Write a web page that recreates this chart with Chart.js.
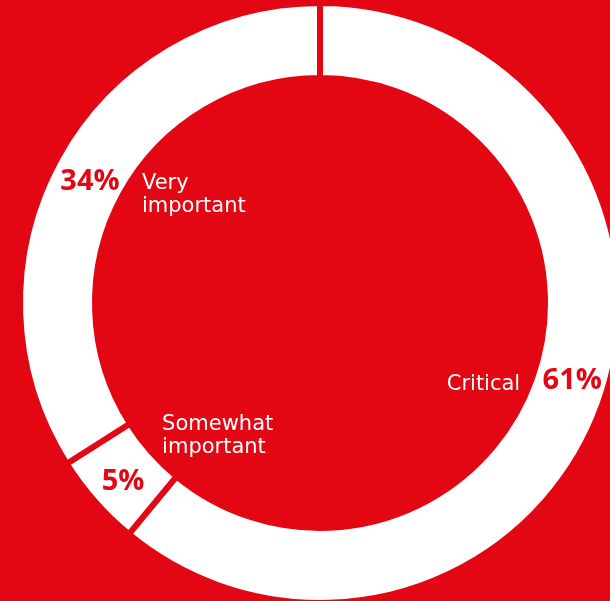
<!DOCTYPE html>
<html>
<head>
<meta charset="utf-8">
<script src="https://cdn.jsdelivr.net/npm/chart.js@4"></script>
<style>
  html, body {
    margin: 0;
    padding: 0;
    width: 610px;
    height: 601px;
    overflow: hidden;
    background: #e30613;
  }
  #ring {
    position: absolute;
    left: 0;
    top: 0;
  }
</style>
</head>
<body>
<canvas id="ring" width="640" height="606"></canvas>
<script>
const categories = [["Critical"], ["Somewhat", "important"], ["Very", "important"]];
const shares = [61, 5, 34];

const RED = "#e30613";

// where each category name sits, relative to its percentage
const labelPlacement = [
  { nudge: -3.7, dx: -52, dy: 3, align: "right" },
  { nudge: 0, dx: 39, dy: -58, align: "left" },
  { nudge: 0, dx: 52, dy: 1, align: "left" },
];

const ringLabels = {
  id: "ringLabels",
  afterDatasetsDraw(chart) {
    const ctx = chart.ctx;
    const arcs = chart.getDatasetMeta(0).data;
    ctx.save();
    ctx.textBaseline = "alphabetic";
    arcs.forEach((arc, i) => {
      const p = labelPlacement[i];
      const mid = (arc.startAngle + arc.endAngle) / 2 + (p.nudge * Math.PI) / 180;
      const r = (arc.innerRadius + arc.outerRadius) / 2;
      const px = arc.x + Math.cos(mid) * r;
      const py = arc.y + Math.sin(mid) * r + 3;

      ctx.fillStyle = RED;
      ctx.textAlign = "center";
      ctx.font = "bold 29px 'Open Sans'";
      ctx.fillText(shares[i] + "%", px, py + 10);

      ctx.fillStyle = "#ffffff";
      ctx.textAlign = p.align;
      ctx.font = "21px 'DejaVu Sans'";
      categories[i].forEach((line, j) => {
        ctx.fillText(line, px + p.dx, py + p.dy + 8 + j * 23.5);
      });
    });
    ctx.restore();
  },
};

new Chart(document.getElementById("ring"), {
  type: "doughnut",
  data: {
    labels: categories.map((c) => c.join(" ")),
    datasets: [
      {
        data: shares,
        backgroundColor: "#ffffff",
        borderColor: RED,
        borderWidth: 6,
      },
    ],
  },
  options: {
    responsive: false,
    animation: false,
    events: [],
    radius: 300,
    cutout: 225,
    layout: { padding: 0 },
    plugins: {
      legend: { display: false },
      tooltip: { enabled: false },
    },
  },
  plugins: [ringLabels],
});
</script>
</body>
</html>
